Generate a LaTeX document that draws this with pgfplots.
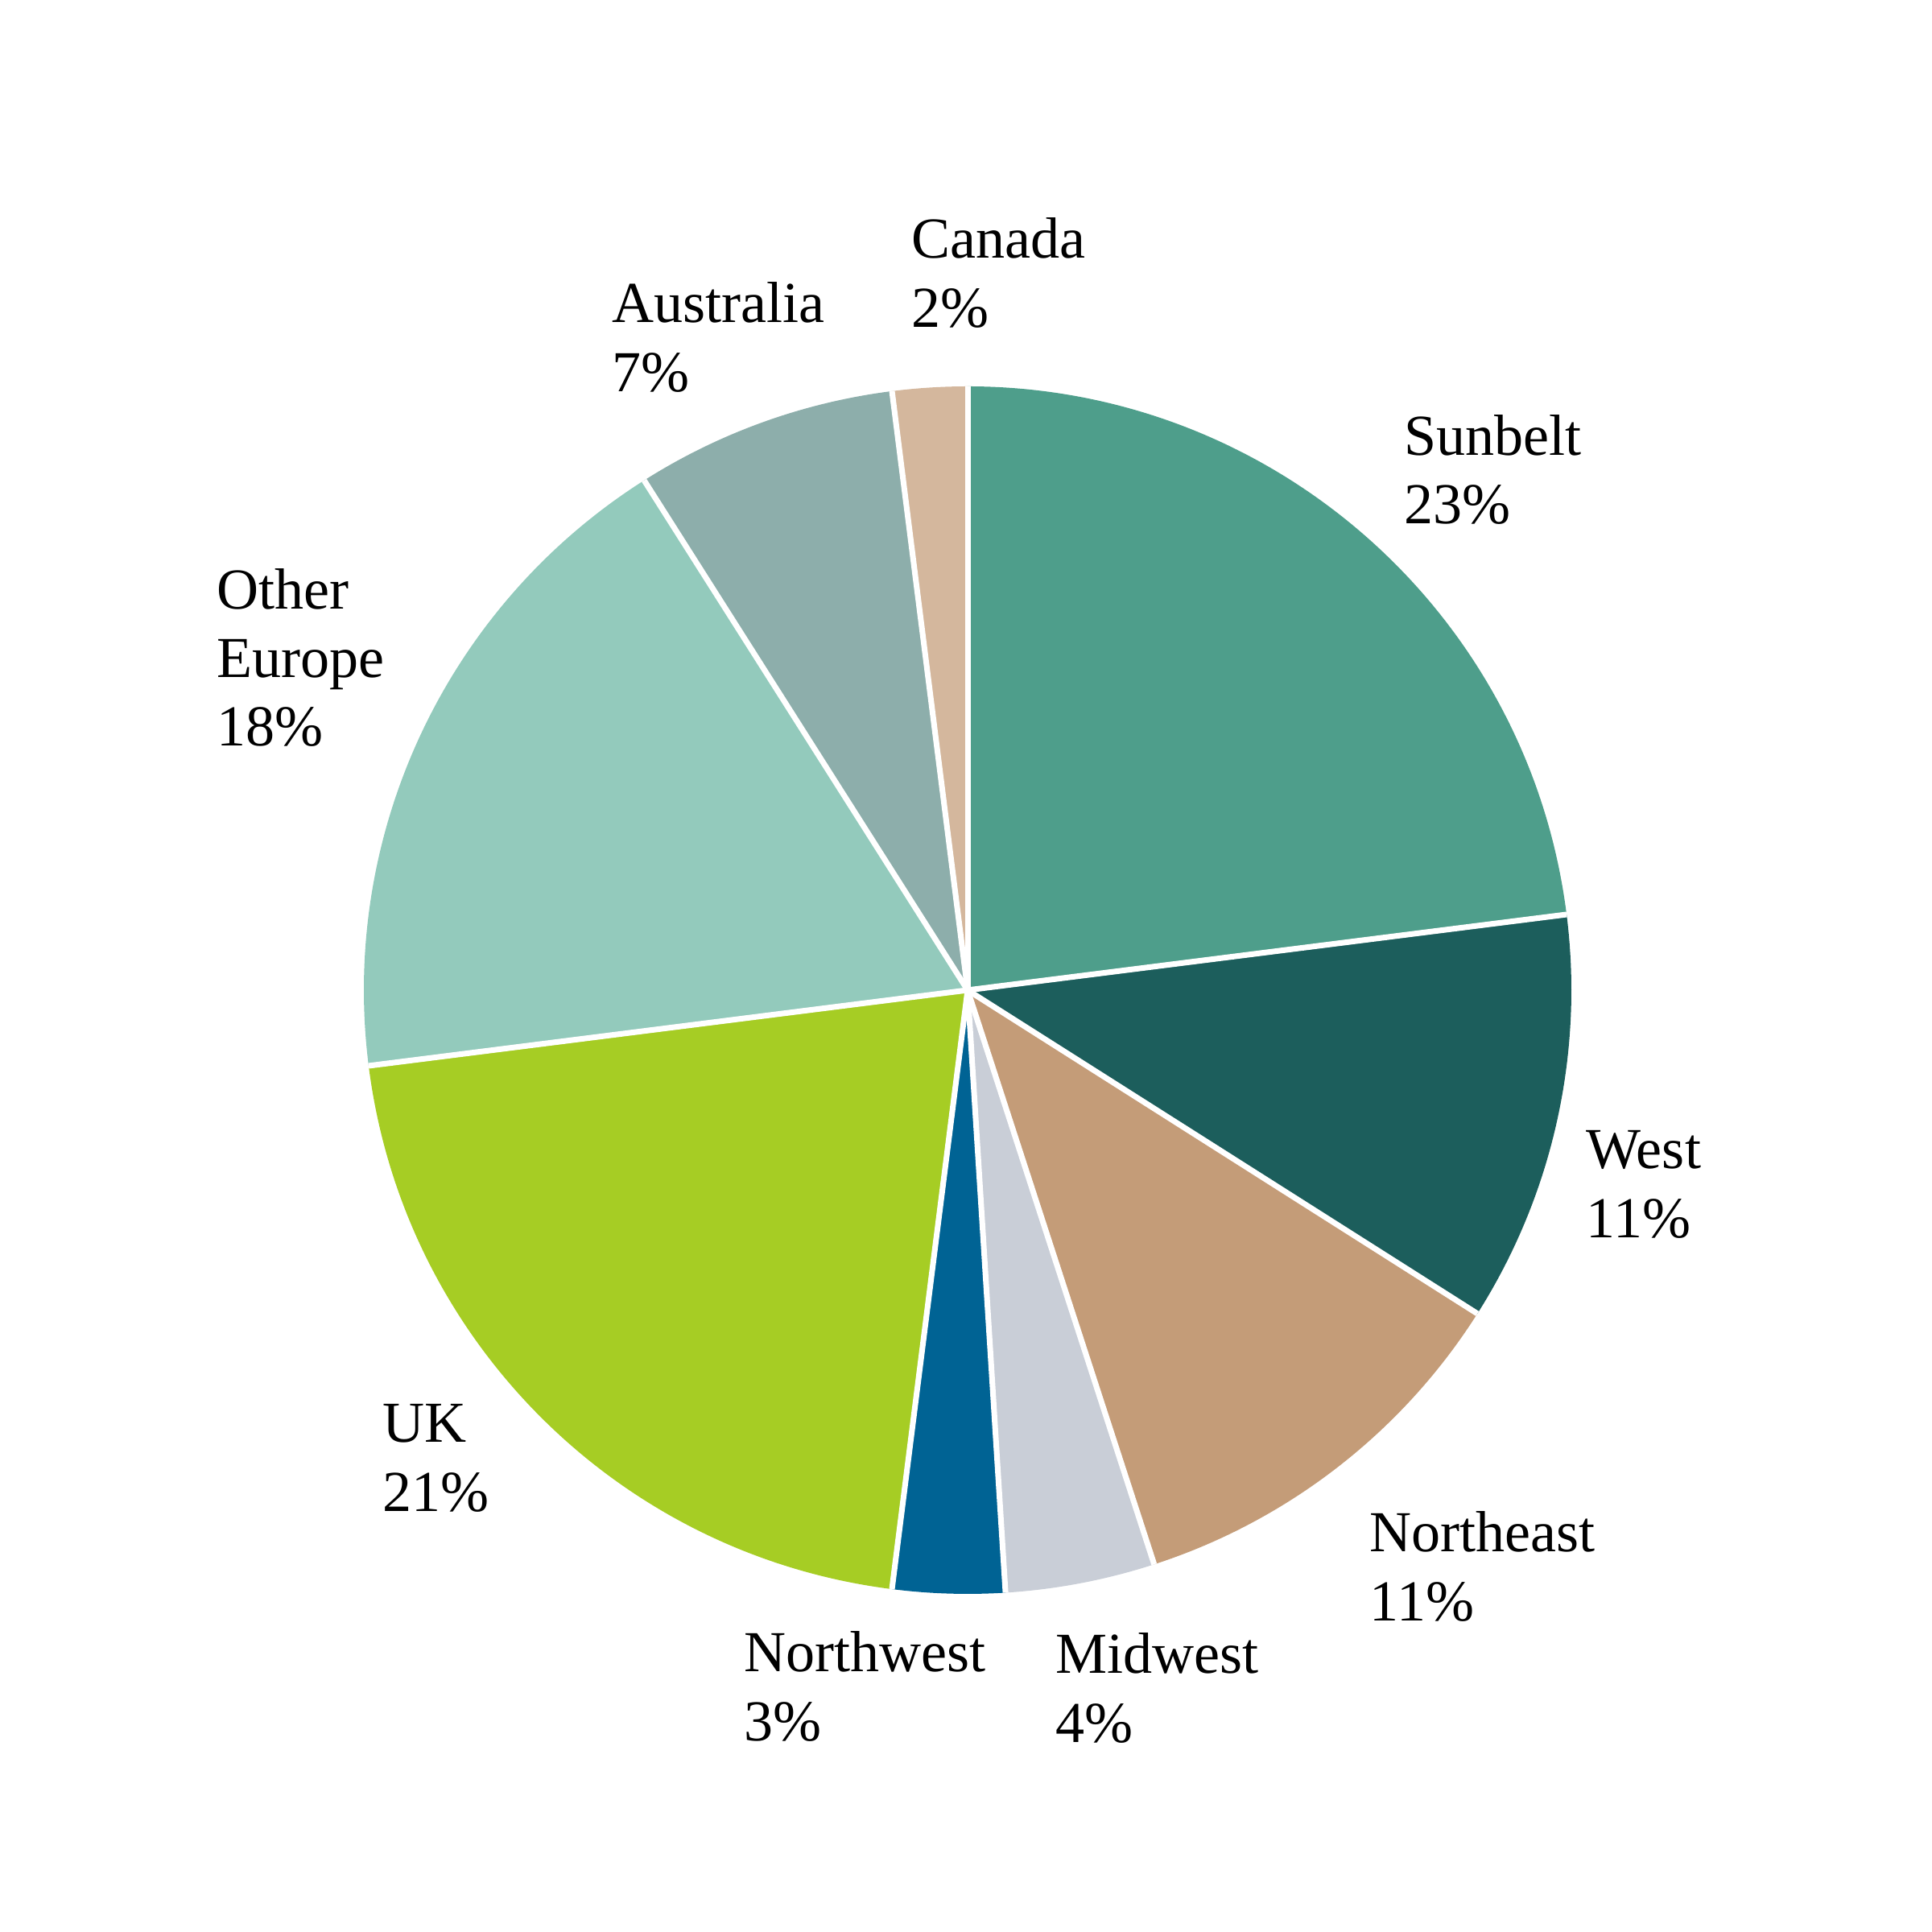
\documentclass[border=0pt]{standalone}
\usepackage{fontspec}
\setmainfont{Liberation Serif}
\usepackage{pgfplots}
\pgfplotsset{compat=1.18}

\definecolor{cSunbelt}{HTML}{4E9E8B}
\definecolor{cWest}{HTML}{1C5E5C}
\definecolor{cNortheast}{HTML}{C49C78}
\definecolor{cMidwest}{HTML}{C9CED7}
\definecolor{cNorthwest}{HTML}{006394}
\definecolor{cUK}{HTML}{A6CD24}
\definecolor{cOtherEurope}{HTML}{93CABC}
\definecolor{cAustralia}{HTML}{8DAEAB}
\definecolor{cCanada}{HTML}{D4B79D}

% pie geometry in axis units (1 unit = 0.01cm)
\def\cx{1202}\def\cy{1170}\def\R{750}
\def\astart{90}
\gdef\seplines{}
% one wedge: share in %, colour; clockwise from the top
\newcommand\slice[2]{%
  \pgfmathsetmacro\aend{\astart-3.6*#1}%
  \pgfmathsetmacro\xs{\cx+\R*cos(\astart)}%
  \pgfmathsetmacro\ys{\cy+\R*sin(\astart)}%
  \edef\temp{\noexpand\fill[#2] (axis cs:\cx,\cy) -- (axis cs:\xs,\ys)
    arc[start angle=\astart, end angle=\aend, radius=7.5cm] -- cycle;}%
  \temp
  \xdef\seplines{\unexpanded\expandafter{\seplines}\noexpand\draw[white, line width=2pt]
    (axis cs:\cx,\cy) -- (axis cs:\xs,\ys);}%
  \xdef\astart{\aend}}
\newcommand\lab[3]{%
  \node[anchor=base west, inner sep=0pt, font=\lblfont] at (axis cs:#1,#2) {#3};}
\newcommand\lblfont{\fontsize{20.5}{24.5}\selectfont}

\begin{document}
\begin{tikzpicture}
\begin{axis}[
    hide axis,
    scale only axis,
    width=24cm, height=24cm,
    xmin=0, xmax=2400,
    ymin=0, ymax=2400,
    clip=false,
]
\path (axis cs:0,0) (axis cs:2400,2400);

\slice{23}{cSunbelt}
\slice{11}{cWest}
\slice{11}{cNortheast}
\slice{4}{cMidwest}
\slice{3}{cNorthwest}
\slice{21}{cUK}
\slice{18}{cOtherEurope}
\slice{7}{cAustralia}
\slice{2}{cCanada}
\seplines

\lab{1132}{2079}{Canada}
\lab{1132}{1993}{2\%}
\lab{760}{1999}{Australia}
\lab{760}{1913}{7\%}
\lab{1744}{1834}{Sunbelt}
\lab{1744}{1749}{23\%}
\lab{269}{1643}{Other}
\lab{269}{1558}{Europe}
\lab{269}{1473}{18\%}
\lab{1970}{948}{West}
\lab{1970}{862}{11\%}
\lab{475}{608}{UK}
\lab{475}{522}{21\%}
\lab{1701}{472}{Northeast}
\lab{1701}{386}{11\%}
\lab{924}{323}{Northwest}
\lab{924}{237}{3\%}
\lab{1311}{321}{Midwest}
\lab{1311}{235}{4\%}
\end{axis}
\end{tikzpicture}
\end{document}
